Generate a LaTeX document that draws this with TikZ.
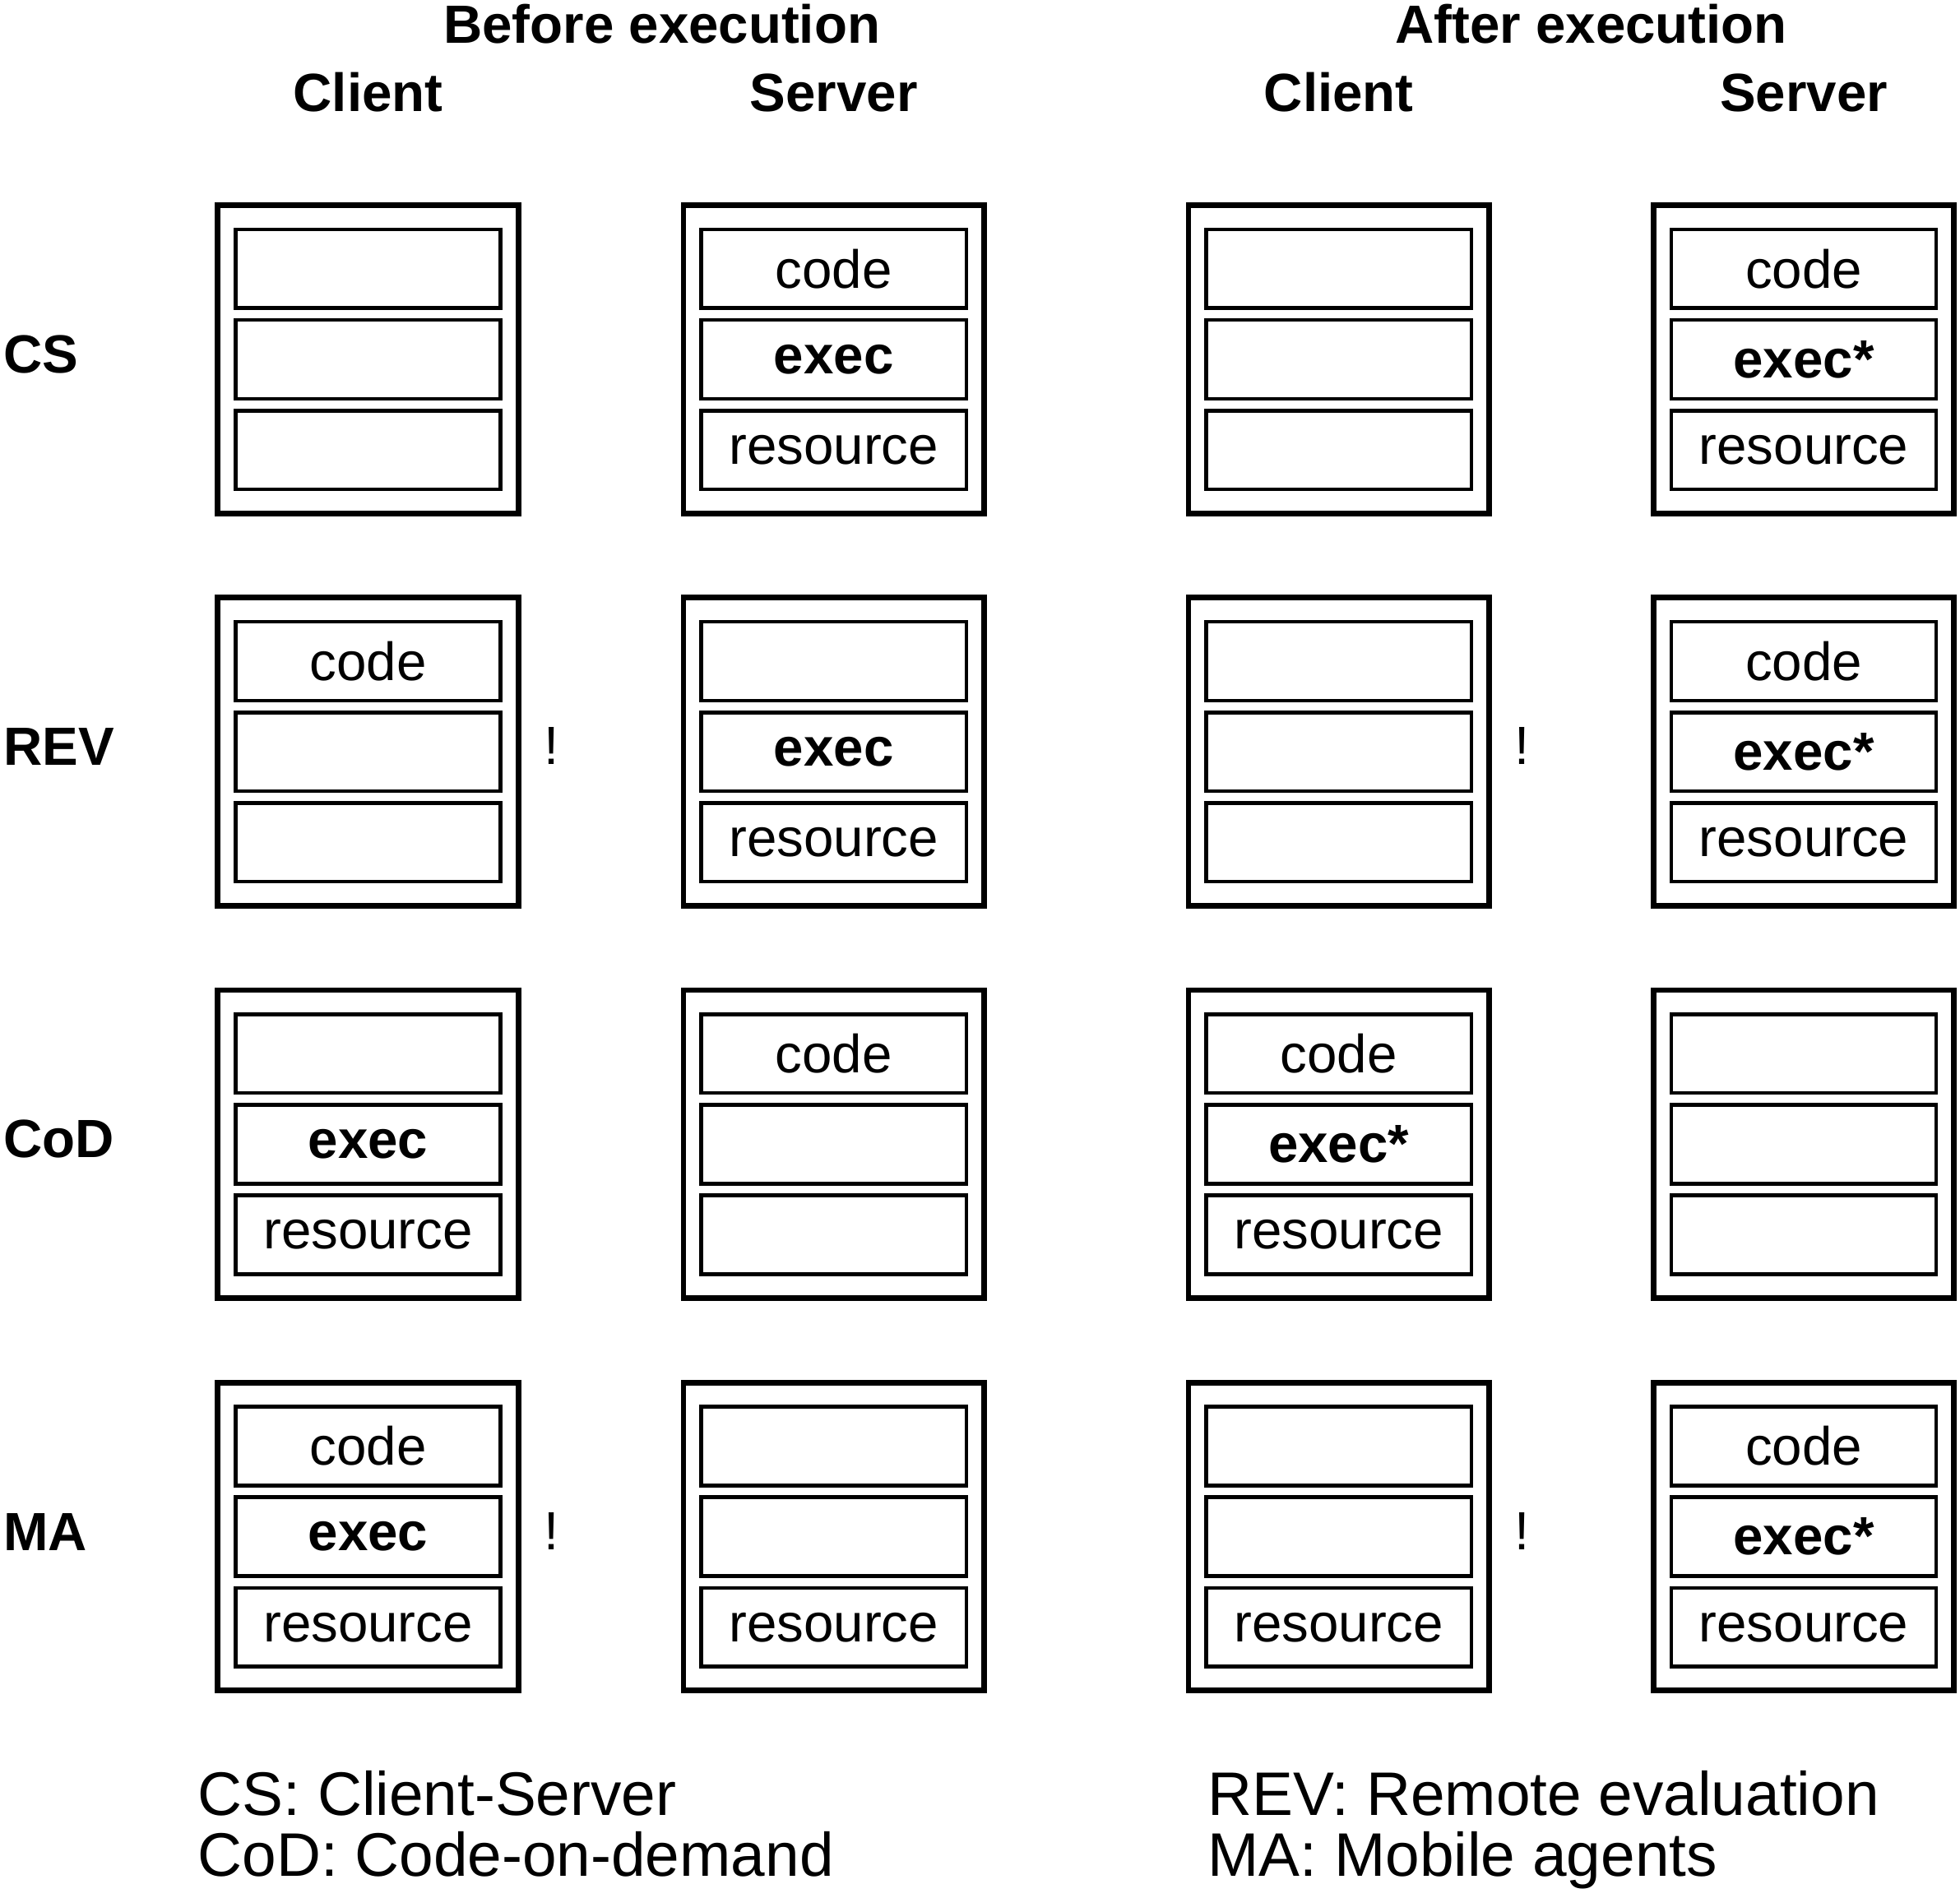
\documentclass[tikz,border=0pt]{standalone}
\usepackage{fontspec}
\setmainfont{Liberation Sans}
\usetikzlibrary{positioning}

% one host: outer frame with three slots (top, middle, bottom)
\newcommand{\hostbox}[5]{%
  \node[host] (#1) #2 {};
  \node[slot] (#1b) at (#1) {#4};
  \node[slot] (#1a) [above of=#1b] {#3};
  \node[slot] (#1c) [below of=#1b] {#5};
}

\begin{document}
\begin{tikzpicture}[node distance=1.45cm]
  \tikzstyle{host}=[draw=black,line width=2.55pt,minimum width=4.81cm,minimum height=4.93cm,inner sep=0pt]
  \tikzstyle{slot}=[draw=black,line width=1.7pt,minimum width=4.24cm,minimum height=1.26cm,inner sep=0pt,font=\fontsize{24.5}{29}\selectfont]
  \tikzstyle{colhead}=[inner sep=0pt,font=\bfseries\fontsize{24.5}{29}\selectfont]
  \tikzstyle{rowlabel}=[anchor=west,inner sep=0pt,font=\bfseries\fontsize{24.5}{29}\selectfont]
  \tikzstyle{bang}=[inner sep=0pt,font=\fontsize{24.5}{29}\selectfont]
  \tikzstyle{legendtext}=[anchor=base west,inner sep=0pt,font=\fontsize{28}{33}\selectfont]

  \useasboundingbox (0,0) rectangle (31.36,-30.37);

  % CS
  \hostbox{cs1}{at (5.89,-5.75)}{}{}{}
  \hostbox{cs2}{[node distance=7.45cm,right of=cs1]}{code}{\textbf{exec}}{resource}
  \hostbox{cs3}{[node distance=8.08cm,right of=cs2]}{}{}{}
  \hostbox{cs4}{[node distance=7.44cm,right of=cs3]}{code}{\textbf{exec*}}{resource}

  % REV
  \hostbox{rev1}{[node distance=6.28cm,below of=cs1]}{code}{}{}
  \hostbox{rev2}{[node distance=7.45cm,right of=rev1]}{}{\textbf{exec}}{resource}
  \hostbox{rev3}{[node distance=8.08cm,right of=rev2]}{}{}{}
  \hostbox{rev4}{[node distance=7.44cm,right of=rev3]}{code}{\textbf{exec*}}{resource}

  % CoD
  \hostbox{cod1}{[node distance=6.28cm,below of=rev1]}{}{\textbf{exec}}{resource}
  \hostbox{cod2}{[node distance=7.45cm,right of=cod1]}{code}{}{}
  \hostbox{cod3}{[node distance=8.08cm,right of=cod2]}{code}{\textbf{exec*}}{resource}
  \hostbox{cod4}{[node distance=7.44cm,right of=cod3]}{}{}{}

  % MA
  \hostbox{ma1}{[node distance=6.28cm,below of=cod1]}{code}{\textbf{exec}}{resource}
  \hostbox{ma2}{[node distance=7.45cm,right of=ma1]}{}{}{resource}
  \hostbox{ma3}{[node distance=8.08cm,right of=ma2]}{}{}{resource}
  \hostbox{ma4}{[node distance=7.44cm,right of=ma3]}{code}{\textbf{exec*}}{resource}

  \node[bang] (bang1) [node distance=2.93cm,right of=rev1,yshift=0.09cm] {!};
  \node[bang] (bang2) [node distance=2.93cm,right of=rev3,yshift=0.09cm] {!};
  \node[bang] (bang3) [node distance=2.93cm,right of=ma1,yshift=0.09cm] {!};
  \node[bang] (bang4) [node distance=2.93cm,right of=ma3,yshift=0.09cm] {!};

  \node[colhead,anchor=base] (before) at (10.59,-0.69) {Before execution};
  \node[colhead,anchor=base] (after)  at (25.46,-0.69) {After execution};
  \node[colhead] (client1) [node distance=3.97cm,above of=cs1,anchor=base] {Client};
  \node[colhead] (server1) [node distance=3.97cm,above of=cs2,anchor=base] {Server};
  \node[colhead] (client2) [node distance=3.97cm,above of=cs3,anchor=base] {Client};
  \node[colhead] (server2) [node distance=3.97cm,above of=cs4,anchor=base] {Server};

  \node[rowlabel] (lcs)  at (0.05,-5.67)  {CS};
  \node[rowlabel] (lrev) at (0.05,-11.95) {REV};
  \node[rowlabel] (lcod) at (0.05,-18.23) {CoD};
  \node[rowlabel] (lma)  at (0.05,-24.51) {MA};

  \node[legendtext] (kcs)  at (3.16,-29.05)  {CS: Client-Server};
  \node[legendtext] (kcod) at (3.16,-30.02)  {CoD: Code-on-demand};
  \node[legendtext] (krev) at (19.32,-29.05) {REV: Remote evaluation};
  \node[legendtext] (kma)  at (19.32,-30.02) {MA: Mobile agents};
\end{tikzpicture}
\end{document}
